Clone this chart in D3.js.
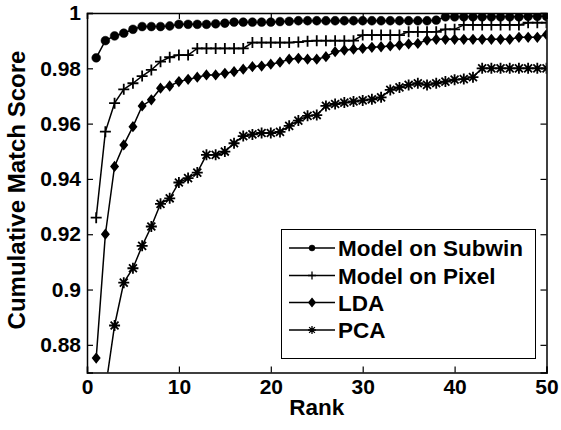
<!DOCTYPE html>
<html>
<head>
<meta charset="utf-8">
<script src="https://cdn.jsdelivr.net/npm/d3@7"></script>
<style>
  body { margin: 0; background: #fff; }
  text { font-family: "Liberation Sans", Arial, sans-serif; font-weight: bold; }
</style>
</head>
<body>
<svg></svg>
<script>
// ranks 1..50
let ranks = d3.range(1, 51)

let subwin = [0.9838, 0.9900, 0.9917, 0.9927, 0.9941, 0.9951, 0.9951, 0.9951, 0.9953, 0.9959,
              0.9959, 0.9959, 0.9959, 0.9961, 0.9963, 0.9967, 0.9967, 0.9967, 0.9967, 0.9967,
              0.9969, 0.9970, 0.9972, 0.9972, 0.9972, 0.9972, 0.9972, 0.9972, 0.9972, 0.9972,
              0.9972, 0.9972, 0.9972, 0.9972, 0.9972, 0.9972, 0.9972, 0.9974, 0.9986, 0.9986,
              0.9986, 0.9986, 0.9986, 0.9986, 0.9986, 0.9986, 0.9986, 0.9988, 0.9988, 0.9988]

let pixel = [0.9260, 0.9571, 0.9674, 0.9724, 0.9746, 0.9772, 0.9794, 0.9824, 0.9840, 0.9848,
             0.9848, 0.9872, 0.9872, 0.9872, 0.9872, 0.9872, 0.9872, 0.9893, 0.9893, 0.9893,
             0.9893, 0.9893, 0.9895, 0.9898, 0.9900, 0.9900, 0.9900, 0.9900, 0.9900, 0.9920,
             0.9920, 0.9920, 0.9920, 0.9920, 0.9932, 0.9932, 0.9932, 0.9932, 0.9941, 0.9941,
             0.9957, 0.9957, 0.9957, 0.9957, 0.9957, 0.9957, 0.9957, 0.9965, 0.9965, 0.9965]

let lda = [0.8752, 0.9200, 0.9445, 0.9523, 0.9589, 0.9664, 0.9686, 0.9728, 0.9736, 0.9752,
           0.9760, 0.9768, 0.9776, 0.9776, 0.9782, 0.9788, 0.9797, 0.9806, 0.9808, 0.9815,
           0.9822, 0.9833, 0.9836, 0.9833, 0.9833, 0.9842, 0.9860, 0.9866, 0.9869, 0.9872,
           0.9876, 0.9878, 0.9881, 0.9884, 0.9888, 0.9890, 0.9902, 0.9905, 0.9905, 0.9905,
           0.9905, 0.9905, 0.9905, 0.9905, 0.9905, 0.9905, 0.9912, 0.9912, 0.9912, 0.9922]

let pca = [0.8350, 0.8640, 0.8870, 0.9025, 0.9077, 0.9158, 0.9228, 0.9310, 0.9330, 0.9387,
           0.9403, 0.9423, 0.9487, 0.9487, 0.9499, 0.9529, 0.9555, 0.9561, 0.9566, 0.9566,
           0.9570, 0.9592, 0.9611, 0.9628, 0.9631, 0.9664, 0.9671, 0.9676, 0.9680, 0.9684,
           0.9688, 0.9695, 0.9722, 0.9731, 0.9740, 0.9746, 0.9740, 0.9746, 0.9752, 0.9759,
           0.9761, 0.9768, 0.9800, 0.9800, 0.9800, 0.9800, 0.9800, 0.9800, 0.9800, 0.9800]

let seriesNames = ['Model on Subwin', 'Model on Pixel', 'LDA', 'PCA']
let markerTypes = ['circle', 'plus', 'diamond', 'star']
let xTicks = [0, 10, 20, 30, 40, 50]
let yTicks = [0.88, 0.9, 0.92, 0.94, 0.96, 0.98, 1]

let w = 561
let h = 430
let padLeft = 87, padTop = 13, padRight = 546.5, padBottom = 372.5

let svg = d3.select('svg').attr('width', w).attr('height', h)

let xScale = d3.scaleLinear().domain([0, 50]).range([padLeft, padRight])
let yScale = d3.scaleLinear().domain([0.87, 1]).range([padBottom, padTop])

// marker path around 0,0
let markerPath = (type, s) => {
    if (type === 'circle') return d3.symbol(d3.symbolCircle, Math.PI * s * s)()
    if (type === 'plus') return `M${-s},0H${s}M0,${-s}V${s}`
    if (type === 'diamond') return `M0,${-s}L${s * 0.8},0L0,${s}L${-s * 0.8},0Z`
    let d = s * 0.72
    return `M${-s},0H${s}M0,${-s}V${s}M${-d},${-d}L${d},${d}M${-d},${d}L${d},${-d}`
}
let markerSize = { circle: 4.4, plus: 5.5, diamond: 4.2, star: 5.5 }

svg.append('clipPath').attr('id', 'clip')
    .append('rect')
    .attr('x', padLeft).attr('y', padTop)
    .attr('width', padRight - padLeft).attr('height', padBottom - padTop)

let plot = svg.append('g').attr('clip-path', 'url(#clip)')

let line = d3.line()
    .x((d, i) => xScale(ranks[i]))
    .y(d => yScale(d))

let allSeries = [subwin, pixel, lda, pca]

allSeries.forEach((values, k) => {
    let type = markerTypes[k]
    plot.append('path')
        .attr('d', line(values))
        .attr('fill', 'none')
        .attr('stroke', '#000')
        .attr('stroke-width', 1.5)

    plot.selectAll('.m' + k)
        .data(values)
        .enter()
        .append('path')
        .attr('class', 'm' + k)
        .attr('transform', (d, i) => 'translate(' + xScale(ranks[i]) + ',' + yScale(d) + ')')
        .attr('d', markerPath(type, markerSize[type]))
        .attr('fill', type === 'circle' || type === 'diamond' ? '#000' : 'none')
        .attr('stroke', '#000')
        .attr('stroke-width', type === 'circle' ? 0.5 : 1.8)
})

// axes: ticks inward on all four sides like matlab box
let xAxis = d3.axisBottom(xScale).tickValues(xTicks).tickSize(-6).tickPadding(7).tickFormat(d3.format('d'))
let yAxis = d3.axisLeft(yScale).tickValues(yTicks).tickSize(-6).tickPadding(6).tickFormat(d => d === 1 ? '1' : String(+d.toFixed(2)))
let xTop = d3.axisTop(xScale).tickValues(xTicks).tickSize(-6).tickFormat('')
let yRight = d3.axisRight(yScale).tickValues(yTicks).tickSize(-6).tickFormat('')

svg.append('g').attr('transform', 'translate(0,' + padBottom + ')').call(xAxis)
svg.append('g').attr('transform', 'translate(' + padLeft + ',0)').call(yAxis)
svg.append('g').attr('transform', 'translate(0,' + padTop + ')').call(xTop)
svg.append('g').attr('transform', 'translate(' + padRight + ',0)').call(yRight)

svg.selectAll('.domain').attr('stroke', '#000').attr('stroke-width', 1.5)
svg.selectAll('.tick line').attr('stroke', '#000').attr('stroke-width', 1.2)
svg.selectAll('.tick text').attr('fill', '#000').style('font-size', '21px')

svg.append('text')
    .attr('x', (padLeft + padRight) / 2)
    .attr('y', 415)
    .attr('text-anchor', 'middle')
    .style('font-size', '22.5px')
    .text('Rank')

svg.append('text')
    .attr('transform', 'translate(25,190) rotate(-90)')
    .attr('text-anchor', 'middle')
    .style('font-size', '24px')
    .text('Cumulative Match Score')

// legend
let legend = svg.append('g')
legend.append('rect')
    .attr('x', 281.5).attr('y', 229.5)
    .attr('width', 254).attr('height', 129)
    .attr('fill', '#fff').attr('stroke', '#000').attr('stroke-width', 1)

let rowY = [248, 275.5, 302.5, 330]
seriesNames.forEach((name, k) => {
    let type = markerTypes[k]
    let g = legend.append('g').attr('transform', 'translate(0,' + rowY[k] + ')')
    g.append('line').attr('x1', 289).attr('x2', 335).attr('stroke', '#000').attr('stroke-width', 1.5)
    g.append('path')
        .attr('transform', 'translate(312,0)')
        .attr('d', markerPath(type, type === 'circle' ? 3 : 4))
        .attr('fill', type === 'circle' || type === 'diamond' ? '#000' : 'none')
        .attr('stroke', '#000')
        .attr('stroke-width', type === 'circle' ? 0.5 : 1.3)
    g.append('text')
        .attr('x', 338).attr('y', 8)
        .style('font-size', '22.5px')
        .text(name)
})
</script>
</body>
</html>
